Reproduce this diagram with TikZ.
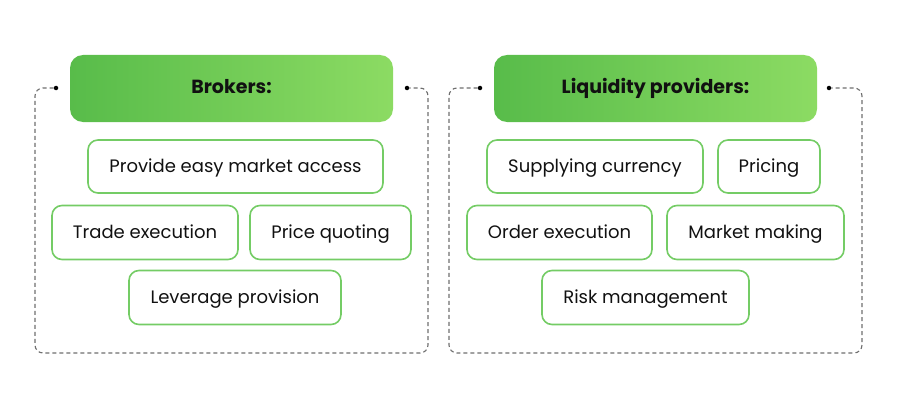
\documentclass[tikz,border=0pt]{standalone}
\usepackage{fontspec}
\setmainfont{Poppins}
\definecolor{gborder}{HTML}{74CC65}
\definecolor{gdark}{HTML}{58BC4A}
\definecolor{glight}{HTML}{8CDB63}
\definecolor{frame}{HTML}{6E6E6E}
\definecolor{txt}{HTML}{111111}
\begin{document}
\begin{tikzpicture}[x=1pt,y=-1pt,
  item/.style={draw=gborder,line width=1.6pt,rounded corners=10pt,fill=white,
    inner sep=0pt,text height=1.15em,text depth=0pt,font=\fontsize{18}{20}\selectfont,text=txt},
  header/.style={rounded corners=13pt,inner sep=0pt,left color=gdark,right color=glight,
    text height=1.0em,text depth=0pt,
    font=\fontsize{19}{22}\selectfont\bfseries,text=txt},
  frameline/.style={draw=frame,line width=1.1pt,dash pattern=on 4pt off 3pt},
  dotmark/.style={circle,fill=black,inner sep=0pt,minimum size=4.5pt}]
\useasboundingbox (0,0) rectangle (897,412);

% ---------- left frame ----------
\node[dotmark] (ld1) at (56,88) {};
\node[dotmark] (ld2) at (407,88) {};
\coordinate (la) at (35,353);
\coordinate (lb) at (428,353);
\draw[frameline,rounded corners=8pt] (ld1.west) -- (35,88) -- (la) -- (lb) -- (428,88) -- (ld2.east);

\node[header,minimum width=323pt,minimum height=67pt] (bh) at (231.5,88.5) {Brokers:};
\node[item,minimum width=295pt,minimum height=53pt] (b1) at (235.5,166.5) {Provide easy market access};
\node[item,minimum width=186pt,minimum height=54pt] (b2) at (145,232.5) {Trade execution};
\node[item,minimum width=161pt,minimum height=54pt] (b3) at (330.5,232.5) {Price quoting};
\node[item,minimum width=212pt,minimum height=54pt] (b4) at (235,297.5) {Leverage provision};

% ---------- right frame ----------
\node[dotmark] (rd1) at (480,88) {};
\node[dotmark] (rd2) at (829,88) {};
\coordinate (ra) at (449,353);
\coordinate (rb) at (862,353);
\draw[frameline,rounded corners=8pt] (rd1.west) -- (449,88) -- (ra) -- (rb) -- (862,88) -- (rd2.east);

\node[header,minimum width=323pt,minimum height=67pt] (lh) at (655.5,88.5) {Liquidity providers:};
\node[item,minimum width=216pt,minimum height=53pt] (l1) at (595,166.5) {Supplying currency};
\node[item,minimum width=102pt,minimum height=53pt] (l2) at (769,166.5) {Pricing};
\node[item,minimum width=185pt,minimum height=54pt] (l3) at (559.5,232.5) {Order execution};
\node[item,minimum width=177pt,minimum height=54pt] (l4) at (755.5,232.5) {Market making};
\node[item,minimum width=207pt,minimum height=54pt] (l5) at (645.5,297.5) {Risk management};
\end{tikzpicture}
\end{document}
